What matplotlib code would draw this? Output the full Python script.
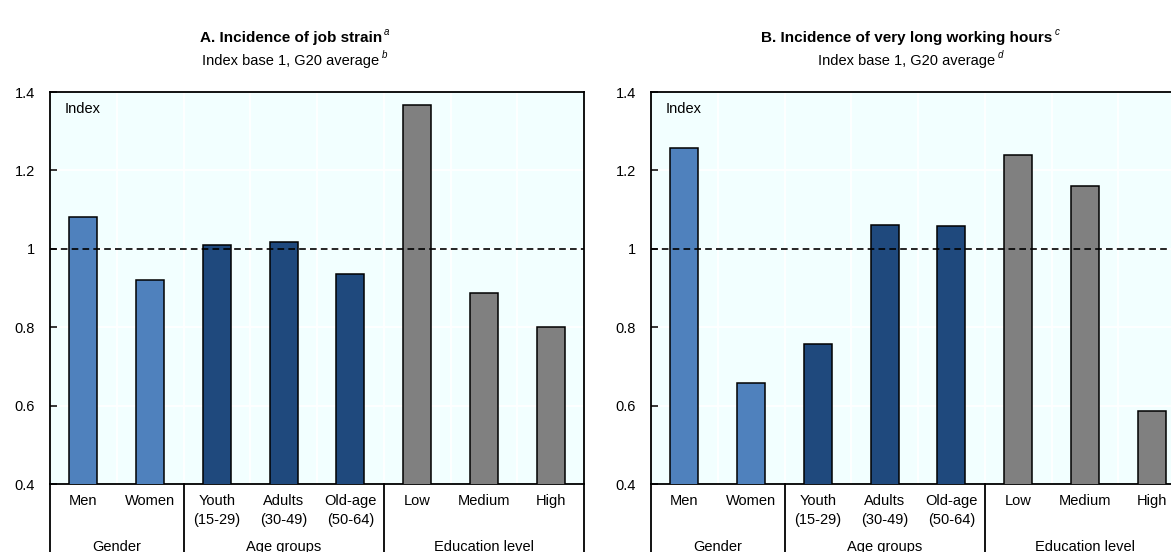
import matplotlib
matplotlib.use("Agg")
import matplotlib.pyplot as plt
import matplotlib.transforms as mtransforms

plt.rcParams['font.family'] = ['Liberation Sans Narrow', 'Liberation Sans', 'DejaVu Sans']

# data
categories = ["Men", "Women", "Youth", "Adults", "Old-age", "Low", "Medium", "High"]
sublabels = ["", "", "(15-29)", "(30-49)", "(50-64)", "", "", ""]
groups = ["Gender", "Age groups", "Education level"]
group_sizes = [2, 3, 3]
job_strain = [1.08, 0.92, 1.01, 1.017, 0.936, 1.367, 0.886, 0.80]
long_hours = [1.258, 0.658, 0.756, 1.061, 1.057, 1.239, 1.159, 0.586]
g20_avg = 1.0
yticks = [0.4, 0.6, 0.8, 1.0, 1.2, 1.4]
yticklabels = ["0.4", "0.6", "0.8", "1", "1.2", "1.4"]

group_colors = ["#4F81BD", "#1F497D", "#808080"]
bar_colors = []
for c, n in zip(group_colors, group_sizes):
    bar_colors += [c] * n

W, H = 1171, 552
fig = plt.figure(figsize=(W / 100, H / 100), dpi=100)

panels = [
    (50, job_strain, "A. Incidence of job strain", "a", "b", 291),
    (651, long_hours, "B. Incidence of very long working hours", "c", "d", 907),
]

for left, vals, title, sup1, sup2, tx in panels:
    ax = fig.add_axes([left / W, 1 - 484 / H, 534 / W, 392 / H])
    ax.set_facecolor("#F2FFFF")
    x = list(range(len(categories)))
    ax.bar(x, vals, width=0.42, color=bar_colors, edgecolor="black", linewidth=1.1, zorder=3)
    ax.set_xlim(-0.5, len(categories) - 0.5)
    ax.set_ylim(0.4, 1.4)
    ax.set_yticks(yticks)
    ax.set_yticklabels(yticklabels)
    ax.set_xticks([])
    ax.tick_params(axis="y", direction="in", length=5, width=1.1, pad=11, labelsize=10.5)
    for s in ax.spines.values():
        s.set_linewidth(1.3)
    # white grid
    for yv in yticks[1:-1]:
        ax.axhline(yv, color="white", lw=1.3, zorder=1)
    for xv in x[:-1]:
        ax.axvline(xv + 0.5, color="white", lw=1.3, zorder=1)
    ax.axhline(g20_avg, color="black", lw=1.2, ls=(0, (4, 2.5)), zorder=4)
    ax.text(0.028, 0.957, "Index", transform=ax.transAxes, fontsize=10.5, va="center", ha="left")

    trans = mtransforms.blended_transform_factory(ax.transData, ax.transAxes)
    for i, (c, s) in enumerate(zip(categories, sublabels)):
        ax.text(i, -0.043, c, transform=trans, ha="center", va="center", fontsize=10.5)
        if s:
            ax.text(i, -0.092, s, transform=trans, ha="center", va="center", fontsize=10.5)
    start = -0.5
    for g, n in zip(groups, group_sizes):
        ax.text(start + n / 2, -0.161, g, transform=trans, ha="center", va="center", fontsize=10.5)
        ax.plot([start, start], [0, -0.3], transform=trans, color="black", lw=1.3, clip_on=False)
        start += n
    ax.plot([start, start], [0, -0.3], transform=trans, color="black", lw=1.3, clip_on=False)

    t1 = fig.text(tx / W, 1 - 38 / H, title, ha="center", va="center", fontsize=11, fontweight="bold")
    ax.annotate(sup1, xy=(1, 1), xycoords=t1, xytext=(1.5, -1), textcoords="offset points",
                fontsize=7, style="italic", va="center", ha="left")
    t2 = fig.text(tx / W, 1 - 61 / H, "Index base 1, G20 average", ha="center", va="center", fontsize=10.5)
    ax.annotate(sup2, xy=(1, 1), xycoords=t2, xytext=(1.5, -1), textcoords="offset points",
                fontsize=7, style="italic", va="center", ha="left")

fig.savefig("out.png", dpi=100)
